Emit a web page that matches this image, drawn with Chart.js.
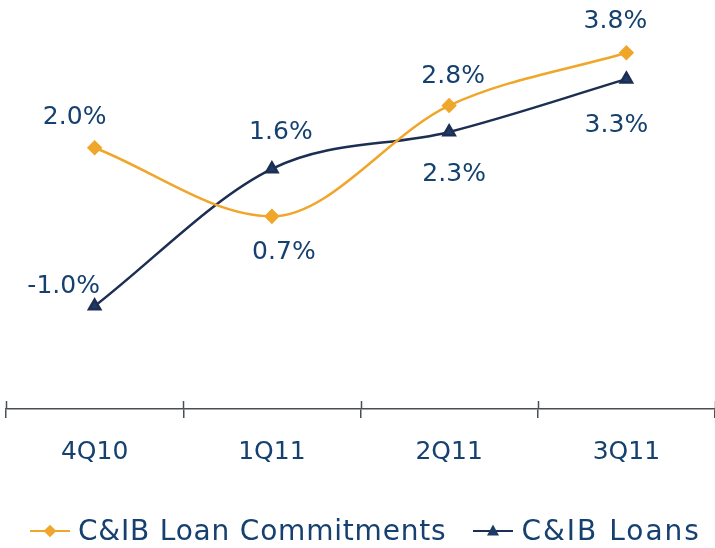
<!DOCTYPE html>
<html>
<head>
<meta charset="utf-8">
<script src="https://cdn.jsdelivr.net/npm/chart.js@4.4.1/dist/chart.umd.min.js"></script>
<style>
    body { margin: 0; background: #fff; }
    #wrap { position: relative; width: 715px; height: 548px; }
    #legend {
        position: absolute; left: 30px; top: 514px;
        display: flex; align-items: center;
        font-family: "DejaVu Sans", Verdana, sans-serif;
        font-size: 28px; letter-spacing: 0.8px; color: #15406F;
    }
    .item { display: flex; align-items: center; }
    .sym { position: relative; width: 40px; height: 30px; margin-right: 8px; }
    .sym .ln { position: absolute; left: 0; right: 0; top: 14px; height: 2.5px; }
    .sym .mk { position: absolute; left: 20px; top: 15px; }
</style>
</head>
<body>
<div id="wrap">
    <canvas id="chart" width="715" height="548"></canvas>
    <div id="legend">
        <div class="item" style="margin-right:27px">
            <div class="sym"><div class="ln" style="background:#F0A62A"></div>
                <div class="mk" style="width:9px;height:9px;background:#F0A62A;transform:translate(-50%,-50%) rotate(45deg)"></div></div>
            <span>C&amp;IB Loan Commitments</span>
        </div>
        <div class="item">
            <div class="sym"><div class="ln" style="background:#1C2E52"></div>
                <div class="mk" style="width:0;height:0;border-left:6px solid transparent;border-right:6px solid transparent;border-bottom:11px solid #1E3A66;transform:translate(-50%,-60%)"></div></div>
            <span style="letter-spacing:2px">C&amp;IB Loans</span>
        </div>
    </div>
</div>
<script>
// quarters and growth rates (%)
const quarters = ['4Q10', '1Q11', '2Q11', '3Q11'];
const commitments = [2.0, 0.7, 2.8, 3.8];
const loans = [-1.0, 1.6, 2.3, 3.3];

// where each value label sits relative to its point
const labelOffsets = [
    [[-20, -30], [12, 36], [4, -29], [-11, -31]],
    [[-31, -20], [9, -36], [5, 43], [-10, 46]]
];

const textColor = '#15406F';
const fontFamily = '"DejaVu Sans", Verdana, sans-serif';

// value labels next to points
const valueLabels = {
    id: 'valueLabels',
    afterDatasetsDraw(chart) {
        const ctx = chart.ctx;
        ctx.save();
        ctx.font = '25px ' + fontFamily;
        ctx.fillStyle = textColor;
        ctx.textAlign = 'center';
        ctx.textBaseline = 'middle';
        chart.data.datasets.forEach((ds, i) => {
            chart.getDatasetMeta(i).data.forEach((pt, j) => {
                const off = labelOffsets[i][j];
                ctx.fillText(ds.data[j].toFixed(1) + '%', pt.x + off[0], pt.y + off[1]);
            });
        });
        ctx.restore();
    }
};

// tick marks that cross the axis line
const crossTicks = {
    id: 'crossTicks',
    afterDraw(chart) {
        const x = chart.scales.x;
        const ctx = chart.ctx;
        ctx.save();
        ctx.strokeStyle = '#4a4f55';
        ctx.lineWidth = 1.5;
        for (let i = 0; i <= quarters.length; i++) {
            const px = Math.round(x.getPixelForValue(i - 0.5)) + 0.5;
            ctx.beginPath();
            ctx.moveTo(px, x.top - 8);
            ctx.lineTo(px, x.top);
            ctx.stroke();
        }
        ctx.restore();
    }
};

new Chart(document.getElementById('chart'), {
    type: 'line',
    data: {
        labels: quarters,
        datasets: [{
            label: 'C&IB Loan Commitments',
            data: commitments,
            borderColor: '#F0A62A',
            backgroundColor: '#F0A62A',
            borderWidth: 2.5,
            pointStyle: 'rectRot',
            pointRadius: 6,
            cubicInterpolationMode: 'monotone',
            clip: false
        }, {
            label: 'C&IB Loans',
            data: loans,
            borderColor: '#1C2E52',
            backgroundColor: '#1E3A66',
            borderWidth: 2.5,
            pointStyle: 'triangle',
            pointRadius: 6.5,
            cubicInterpolationMode: 'monotone',
            clip: false
        }]
    },
    options: {
        responsive: false,
        animation: false,
        layout: { autoPadding: false, padding: { left: 6, right: 0, top: 0, bottom: 0 } },
        plugins: { legend: { display: false }, tooltip: { enabled: false } },
        scales: {
            x: {
                offset: true,
                afterFit(scale) { scale.height = 139; },
                grid: { offset: true, drawOnChartArea: false, tickLength: 9, color: '#4a4f55', lineWidth: 1.5 },
                border: { color: '#4a4f55', width: 1.5 },
                ticks: { color: textColor, font: { family: fontFamily, size: 25 }, padding: 19 }
            },
            y: { display: false, min: -2.95, max: 4.8 }
        }
    },
    plugins: [valueLabels, crossTicks]
});
</script>
</body>
</html>
